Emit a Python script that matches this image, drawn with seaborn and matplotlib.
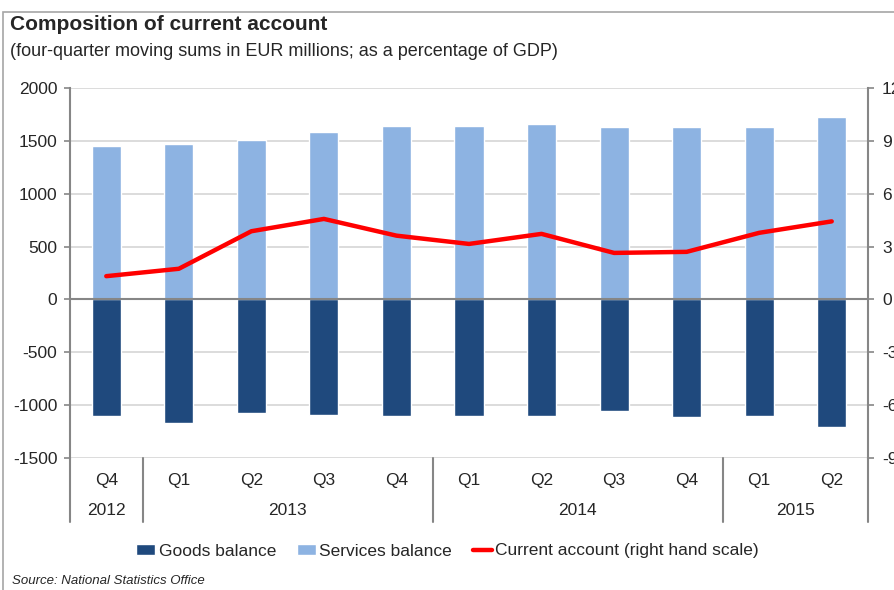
import numpy as np
import pandas as pd
import matplotlib
matplotlib.use("Agg")
import matplotlib.pyplot as plt
from matplotlib.patches import Patch, Rectangle
from matplotlib.lines import Line2D
import seaborn as sns


quarters = ["Q4", "Q1", "Q2", "Q3", "Q4", "Q1", "Q2", "Q3", "Q4", "Q1", "Q2"]
years = ["2012", "2013", "2014", "2015"]
quarters_per_year = [1, 4, 4, 2]
goods_balance = [-1100, -1170, -1075, -1095, -1105, -1100, -1100, -1055, -1115, -1100, -1210]
services_balance = [1450, 1470, 1510, 1580, 1640, 1645, 1660, 1630, 1632, 1632, 1725]
current_account = [1.32, 1.74, 3.87, 4.57, 3.62, 3.15, 3.72, 2.64, 2.70, 3.78, 4.43]

GOODS_COLOR = "#1F497D"
SERVICES_COLOR = "#8DB3E2"
LINE_COLOR = "#FF0000"
GRID_COLOR = "#D9D9D9"
AXIS_COLOR = "#868686"


def main():
    sns.set_style("white")
    plt.rcParams["font.family"] = ["Liberation Sans", "DejaVu Sans"]
    plt.rcParams["axes.unicode_minus"] = False

    df = pd.DataFrame({
        "period": [f"p{i}" for i in range(len(quarters))],
        "goods": goods_balance,
        "services": services_balance,
        "current": current_account,
    })

    fig = plt.figure(figsize=(8.95, 5.9), dpi=100)
    ax = fig.add_axes([70 / 895, 132 / 590, 798 / 895, 370 / 590])

    sns.barplot(data=df, x="period", y="services", color=SERVICES_COLOR,
                width=0.4, ax=ax, saturation=1, zorder=2)
    sns.barplot(data=df, x="period", y="goods", color=GOODS_COLOR,
                width=0.4, ax=ax, saturation=1, zorder=2)

    ax.set_ylim(-1500, 2000)
    ax.set_yticks(np.arange(-1500, 2001, 500))
    ax.set_xlim(-0.5, len(quarters) - 0.5)
    ax.set_xlabel("")
    ax.set_ylabel("")
    ax.grid(axis="y", color=GRID_COLOR, linewidth=1.3, zorder=0)
    ax.set_axisbelow(True)
    ax.axhline(0, color=AXIS_COLOR, linewidth=1.5, zorder=3)
    for side in ["top", "bottom", "right"]:
        ax.spines[side].set_visible(False)
    ax.spines["left"].set_color(AXIS_COLOR)
    ax.spines["left"].set_linewidth(1.5)
    ax.tick_params(axis="y", left=True, length=4, width=1.2, color=AXIS_COLOR,
                   labelsize=12.5, pad=5)
    ax.set_xticks(range(len(quarters)))
    ax.set_xticklabels(quarters)
    ax.tick_params(axis="x", length=0, labelsize=12.5, pad=11)

    # right hand scale
    ax2 = ax.twinx()
    sns.lineplot(x=df.index, y=df["current"], color=LINE_COLOR, linewidth=3.2,
                 ax=ax2, zorder=4)
    ax2.set_ylim(-9, 12)
    ax2.set_yticks(np.arange(-9, 13, 3))
    ax2.set_ylabel("")
    for side in ["top", "bottom", "left"]:
        ax2.spines[side].set_visible(False)
    ax2.spines["right"].set_color(AXIS_COLOR)
    ax2.spines["right"].set_linewidth(1.5)
    ax2.tick_params(axis="y", right=True, length=4, width=1.2, color=AXIS_COLOR,
                    labelsize=12.5, pad=6)

    # year labels and separators below the quarter labels
    bounds = np.concatenate([[0], np.cumsum(quarters_per_year)]) - 0.5
    trans = ax.get_xaxis_transform()
    for b in bounds:
        ax.plot([b, b], [0, -0.173], transform=trans, color=AXIS_COLOR,
                linewidth=1.5, clip_on=False)
    for year, lo, hi in zip(years, bounds[:-1], bounds[1:]):
        ax.text((lo + hi) / 2, -0.143, year, transform=trans, ha="center",
                va="center", fontsize=12.5)

    fig.text(10 / 895, 1 - 25 / 590, "Composition of current account",
             fontsize=15, fontweight="bold", va="center", ha="left")
    fig.text(10 / 895, 1 - 52 / 590,
             "(four-quarter moving sums in EUR millions; as a percentage of GDP)",
             fontsize=13, va="center", ha="left")
    fig.text(12 / 895, 1 - 581 / 590, "Source: National Statistics Office",
             fontsize=9.5, style="italic", va="center", ha="left")

    handles = [
        Patch(facecolor=GOODS_COLOR, label="Goods balance"),
        Patch(facecolor=SERVICES_COLOR, label="Services balance"),
        Line2D([], [], color=LINE_COLOR, linewidth=3.2,
               label="Current account (right hand scale)"),
    ]
    fig.legend(handles=handles, loc="center", bbox_to_anchor=(0.5, 1 - 551 / 590),
               ncol=3, frameon=False, fontsize=12.5, handlelength=1.1,
               handleheight=0.6, handletextpad=0.2, columnspacing=1.2)

    fig.add_artist(Rectangle((3 / 895, -0.01), 1.0, 1 - 12 / 590 + 0.01,
                             transform=fig.transFigure, fill=False,
                             edgecolor="#A6A6A6", linewidth=1.2))

    fig.savefig("out.png", dpi=100)
    plt.close(fig)


if __name__ == "__main__":
    main()
